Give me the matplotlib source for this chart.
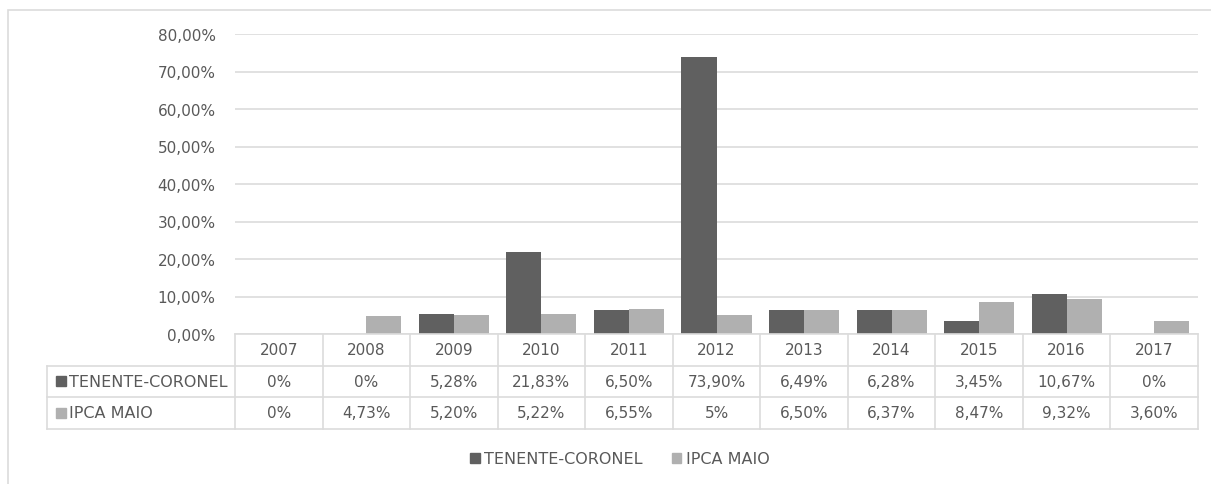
import matplotlib
matplotlib.use("Agg")
import matplotlib.pyplot as plt
import matplotlib.patches as mpatches
from matplotlib.transforms import blended_transform_factory
import numpy as np

years = ["2007", "2008", "2009", "2010", "2011", "2012", "2013", "2014", "2015", "2016", "2017"]
tenente = [0, 0, 5.28, 21.83, 6.50, 73.90, 6.49, 6.28, 3.45, 10.67, 0]
ipca = [0, 4.73, 5.20, 5.22, 6.55, 5, 6.50, 6.37, 8.47, 9.32, 3.60]
tenente_lbl = ["0%", "0%", "5,28%", "21,83%", "6,50%", "73,90%", "6,49%", "6,28%", "3,45%", "10,67%", "0%"]
ipca_lbl = ["0%", "4,73%", "5,20%", "5,22%", "6,55%", "5%", "6,50%", "6,37%", "8,47%", "9,32%", "3,60%"]
series_names = ["TENENTE-CORONEL", "IPCA MAIO"]

dark = "#606060"
light = "#b0b0b0"
txt = "#595959"
grid = "#dcdcdc"

plt.rcParams["font.family"] = "DejaVu Sans"
plt.rcParams["font.size"] = 11

W, H = 1211, 485
fig = plt.figure(figsize=(W / 100, H / 100), dpi=100)
ax = fig.add_axes([235 / W, 1 - 335 / H, (1198 - 235) / W, 300 / H])

x = np.arange(len(years))
bw = 0.4
ax.bar(x - bw / 2, np.array(tenente) / 100, bw, color=dark, zorder=3)
ax.bar(x + bw / 2, np.array(ipca) / 100, bw, color=light, zorder=3)

ax.set_xlim(-0.5, len(years) - 0.5)
ax.set_ylim(0, 0.8)
yt = np.arange(0, 0.81, 0.1)
ax.set_yticks(yt)
ax.set_yticklabels([("%.2f%%" % (v * 100)).replace(".", ",") for v in yt], color=txt)
ax.tick_params(axis="y", length=0, pad=14)
ax.set_xticks([])
ax.yaxis.grid(True, color=grid, lw=1.2, zorder=0)
for s in ax.spines.values():
    s.set_visible(False)

# data table under the bars
tr = blended_transform_factory(ax.transData, ax.transAxes)
row_h = 31.5 / 300
rows_y = [0, -row_h, -2 * row_h, -3 * row_h]
left = -0.5 - (235 - 47) / 87.5
right = len(years) - 0.5
lc = dict(color=grid, lw=1.2, clip_on=False, transform=tr, zorder=4)
ax.plot([-0.5, right], [0, 0], **lc)
for yy in rows_y[1:]:
    ax.plot([left, right], [yy, yy], **lc)
for i in range(len(years) + 1):
    ax.plot([i - 0.5, i - 0.5], [0, rows_y[-1]], **lc)
ax.plot([left, left], [rows_y[1], rows_y[-1]], **lc)

for i, y in enumerate(years):
    ax.text(i, -row_h / 2, y, ha="center", va="center", color=txt, transform=tr)
    ax.text(i, -1.5 * row_h, tenente_lbl[i], ha="center", va="center", color=txt, transform=tr)
    ax.text(i, -2.5 * row_h, ipca_lbl[i], ha="center", va="center", color=txt, transform=tr)

for k, (name, c) in enumerate(zip(series_names, [dark, light])):
    yy = -(1.5 + k) * row_h
    ax.plot([left + 0.16], [yy], marker="s", ms=7, color=c, clip_on=False, transform=tr, lw=0)
    ax.text(left + 0.25, yy, name, ha="left", va="center", color=txt, transform=tr, fontsize=11.5)

handles = [mpatches.Patch(color=dark, label=series_names[0]),
           mpatches.Patch(color=light, label=series_names[1])]
fig.legend(handles=handles, loc="center", bbox_to_anchor=(620 / W, 1 - 460 / H), ncol=2,
           frameon=False, handlelength=0.6, handleheight=0.6, handletextpad=0.3,
           columnspacing=1.8, labelcolor=txt, fontsize=11.5)

# outer chart border
fig.add_artist(mpatches.Rectangle((8 / W, -0.1), 1.2, 1 - 11 / H + 0.1, transform=fig.transFigure,
                                  fill=False, edgecolor=grid, lw=1.2))

fig.savefig("out.png", dpi=100)
